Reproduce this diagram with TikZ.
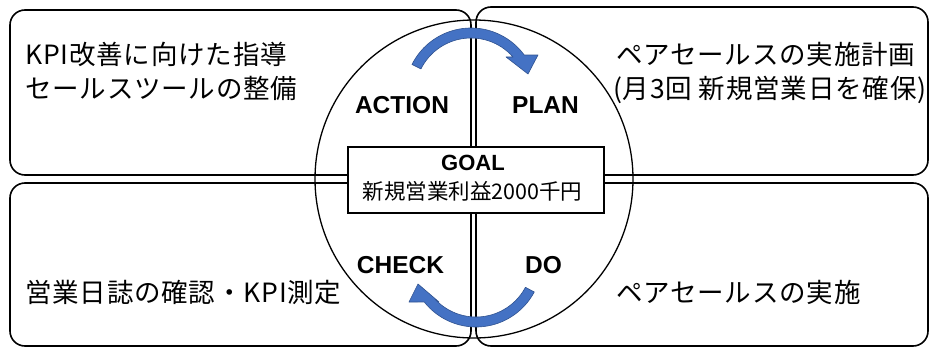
\documentclass[tikz,border=0pt]{standalone}
\usepackage{fontspec}
\setmainfont{Liberation Sans}
\newfontfamily\jp{Noto Sans CJK JP}
\newfontfamily\jpw[LetterSpace=3]{Noto Sans CJK JP}
\usetikzlibrary{calc}
\definecolor{arrowfill}{HTML}{4472C4}
\definecolor{arrowline}{HTML}{2F528F}
\begin{document}
\begin{tikzpicture}[x=1pt,y=1pt,
  box/.style={draw=black, line width=1.6pt, rounded corners=15pt},
  jptext/.style={font=\jpw\fontsize{26.5}{30}\selectfont, inner sep=0pt, anchor=base west},
  phase/.style={font=\bfseries\fontsize{24.5}{28}\selectfont, inner sep=0pt, anchor=base},
  cyclearrow/.style={fill=arrowfill, draw=arrowline, line width=0.6pt, line join=round}]
\useasboundingbox (0,0) rectangle (931,349);
% quadrant boxes
\draw[box] (10,174) rectangle (471,339);
\draw[box] (476,174) rectangle (928,342);
\draw[box] (10,3) rectangle (471,166);
\draw[box] (476,3) rectangle (928,166);
% circle
\draw[line width=1.3pt] (474,170) circle[radius=159];
% goal box
\node[draw, line width=1.5pt, fill=white, minimum width=256pt, minimum height=66pt, inner sep=0pt] (goal) at (476,169) {};
\node[font=\bfseries\fontsize{22}{26}\selectfont, inner sep=0pt, anchor=base] (goalt) at (473,179) {GOAL};
\node[font=\jp\fontsize{21.5}{24}\selectfont, inner sep=0pt, anchor=base] (goals) at (472.5,150) {新規営業利益2000千円};
% phase labels
\node[phase] (action) at (402,236) {ACTION};
\node[phase] (plan) at (545.5,236) {PLAN};
\node[phase] (check) at (400.5,76) {CHECK};
\node[phase] (do) at (543.5,76) {DO};
% quadrant texts
\node[jptext] (tl1) at (25,284) {KPI改善に向けた指導};
\node[jptext] (tl2) at (25,251) {セールスツールの整備};
\node[jptext] (tr1) at (616,284) {ペアセールスの実施計画};
\node[jptext] (tr2) at (613,251) {(月3回 新規営業日を確保)};
\node[jptext] (bl1) at (25,47) {営業日誌の確認・KPI測定};
\node[jptext] (br1) at (616,47) {ペアセールスの実施};
% cycle arrows
\coordinate (ac) at (471,255);
\filldraw[cyclearrow] ($(ac)+(153.4:66)$) arc[start angle=153.4, end angle=36.2, radius=66]
  -- (538,294) -- (528,275) -- (506,292)
  -- ($(ac)+(41.4:56)$) arc[start angle=41.4, end angle=153.4, radius=56] -- cycle;
\coordinate (bc) at (476,88);
\filldraw[cyclearrow] ($(bc)+(-28:66)$) arc[start angle=-28, end angle=-141.6, radius=66]
  -- (409,47) -- (418,65) -- (439,47)
  -- ($(bc)+(-137.1:56)$) arc[start angle=-137.1, end angle=-28, radius=56] -- cycle;
\end{tikzpicture}
\end{document}
